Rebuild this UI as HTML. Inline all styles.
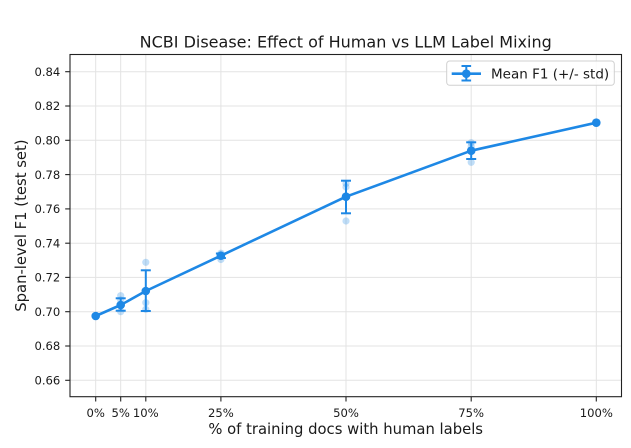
<!DOCTYPE html>
<html>
<head>
<meta charset="utf-8">
<style>
  html, body { margin: 0; padding: 0; background: #ffffff; }
  svg { display: block; }
  text { font-family: "DejaVu Sans", "Liberation Sans", sans-serif; fill: #1a1a1a; }
</style>
</head>
<body>
<svg width="631" height="448" viewBox="0 0 631 448" xmlns="http://www.w3.org/2000/svg">
  <rect x="0" y="0" width="631" height="448" fill="#ffffff"/>

  <!-- grid -->
  <g stroke="#e3e3e3" stroke-width="1">
    <!-- vertical -->
    <line x1="95.7" y1="54.5" x2="95.7" y2="396.7"/>
    <line x1="120.7" y1="54.5" x2="120.7" y2="396.7"/>
    <line x1="145.8" y1="54.5" x2="145.8" y2="396.7"/>
    <line x1="220.9" y1="54.5" x2="220.9" y2="396.7"/>
    <line x1="346" y1="54.5" x2="346" y2="396.7"/>
    <line x1="471.2" y1="54.5" x2="471.2" y2="396.7"/>
    <line x1="596.3" y1="54.5" x2="596.3" y2="396.7"/>
    <!-- horizontal -->
    <line x1="70" y1="71.7" x2="621.5" y2="71.7"/>
    <line x1="70" y1="106" x2="621.5" y2="106"/>
    <line x1="70" y1="140.3" x2="621.5" y2="140.3"/>
    <line x1="70" y1="174.6" x2="621.5" y2="174.6"/>
    <line x1="70" y1="208.9" x2="621.5" y2="208.9"/>
    <line x1="70" y1="243.2" x2="621.5" y2="243.2"/>
    <line x1="70" y1="277.4" x2="621.5" y2="277.4"/>
    <line x1="70" y1="311.7" x2="621.5" y2="311.7"/>
    <line x1="70" y1="346" x2="621.5" y2="346"/>
    <line x1="70" y1="380.3" x2="621.5" y2="380.3"/>
  </g>

  <!-- individual runs (light scatter) -->
  <g fill="#1e88e5" fill-opacity="0.28">
    <circle cx="95.7" cy="316" r="3.6"/>
    <circle cx="120.7" cy="295.7" r="3.6"/>
    <circle cx="120.7" cy="300" r="3.6"/>
    <circle cx="120.7" cy="311.7" r="3.6"/>
    <circle cx="145.8" cy="262.3" r="3.6"/>
    <circle cx="145.8" cy="302.7" r="3.6"/>
    <circle cx="145.8" cy="309.3" r="3.6"/>
    <circle cx="220.9" cy="253.2" r="3.6"/>
    <circle cx="220.9" cy="259.5" r="3.6"/>
    <circle cx="346" cy="183.5" r="3.6"/>
    <circle cx="346" cy="187" r="3.6"/>
    <circle cx="346" cy="221" r="3.6"/>
    <circle cx="471.2" cy="142.7" r="3.6"/>
    <circle cx="471.2" cy="146" r="3.6"/>
    <circle cx="471.2" cy="162.3" r="3.6"/>
    <circle cx="596.3" cy="122.7" r="3.6"/>
  </g>

  <!-- mean line -->
  <polyline fill="none" stroke="#1e88e5" stroke-width="2.6" stroke-linejoin="round"
    points="95.7,316 120.7,305 145.8,291 220.9,255.7 346,196.7 471.2,150.7 596.3,122.7"/>

  <!-- error bars -->
  <g stroke="#1e88e5" stroke-width="2">
    <line x1="120.7" y1="298.3" x2="120.7" y2="310.7"/>
    <line x1="115.7" y1="298.3" x2="125.7" y2="298.3"/>
    <line x1="115.7" y1="310.7" x2="125.7" y2="310.7"/>

    <line x1="145.8" y1="270.3" x2="145.8" y2="311"/>
    <line x1="140.8" y1="270.3" x2="150.8" y2="270.3"/>
    <line x1="140.8" y1="311" x2="150.8" y2="311"/>

    <line x1="220.9" y1="253.5" x2="220.9" y2="258"/>
    <line x1="215.9" y1="253.5" x2="225.9" y2="253.5"/>
    <line x1="215.9" y1="258" x2="225.9" y2="258"/>

    <line x1="346" y1="180.7" x2="346" y2="213.3"/>
    <line x1="341" y1="180.7" x2="351" y2="180.7"/>
    <line x1="341" y1="213.3" x2="351" y2="213.3"/>

    <line x1="471.2" y1="142.3" x2="471.2" y2="159"/>
    <line x1="466.2" y1="142.3" x2="476.2" y2="142.3"/>
    <line x1="466.2" y1="159" x2="476.2" y2="159"/>
  </g>

  <!-- mean markers -->
  <g fill="#1e88e5">
    <circle cx="95.7" cy="316" r="4.3"/>
    <circle cx="120.7" cy="305" r="4.3"/>
    <circle cx="145.8" cy="291" r="4.3"/>
    <circle cx="220.9" cy="255.7" r="4.3"/>
    <circle cx="346" cy="196.7" r="4.3"/>
    <circle cx="471.2" cy="150.7" r="4.3"/>
    <circle cx="596.3" cy="122.7" r="4.3"/>
  </g>

  <!-- spines -->
  <rect x="70" y="54.5" width="551.5" height="342.2" fill="none" stroke="#222" stroke-width="1.1"/>

  <!-- y ticks -->
  <g stroke="#222" stroke-width="1.1">
    <line x1="65.2" y1="71.7" x2="70" y2="71.7"/>
    <line x1="65.2" y1="106" x2="70" y2="106"/>
    <line x1="65.2" y1="140.3" x2="70" y2="140.3"/>
    <line x1="65.2" y1="174.6" x2="70" y2="174.6"/>
    <line x1="65.2" y1="208.9" x2="70" y2="208.9"/>
    <line x1="65.2" y1="243.2" x2="70" y2="243.2"/>
    <line x1="65.2" y1="277.4" x2="70" y2="277.4"/>
    <line x1="65.2" y1="311.7" x2="70" y2="311.7"/>
    <line x1="65.2" y1="346" x2="70" y2="346"/>
    <line x1="65.2" y1="380.3" x2="70" y2="380.3"/>
  </g>
  <g font-size="11.6" text-anchor="end">
    <text x="60.3" y="75.9">0.84</text>
    <text x="60.3" y="110.2">0.82</text>
    <text x="60.3" y="144.5">0.80</text>
    <text x="60.3" y="178.8">0.78</text>
    <text x="60.3" y="213.1">0.76</text>
    <text x="60.3" y="247.4">0.74</text>
    <text x="60.3" y="281.6">0.72</text>
    <text x="60.3" y="315.9">0.70</text>
    <text x="60.3" y="350.2">0.68</text>
    <text x="60.3" y="384.5">0.66</text>
  </g>

  <!-- x ticks -->
  <g stroke="#222" stroke-width="1.1">
    <line x1="95.7" y1="396.7" x2="95.7" y2="401.5"/>
    <line x1="120.7" y1="396.7" x2="120.7" y2="401.5"/>
    <line x1="145.8" y1="396.7" x2="145.8" y2="401.5"/>
    <line x1="220.9" y1="396.7" x2="220.9" y2="401.5"/>
    <line x1="346" y1="396.7" x2="346" y2="401.5"/>
    <line x1="471.2" y1="396.7" x2="471.2" y2="401.5"/>
    <line x1="596.3" y1="396.7" x2="596.3" y2="401.5"/>
  </g>
  <g font-size="11.6" text-anchor="middle">
    <text x="95.7" y="417">0%</text>
    <text x="120.7" y="417">5%</text>
    <text x="145.8" y="417">10%</text>
    <text x="220.9" y="417">25%</text>
    <text x="346" y="417">50%</text>
    <text x="471.2" y="417">75%</text>
    <text x="596.3" y="417">100%</text>
  </g>

  <!-- axis labels -->
  <text x="345.7" y="434" font-size="14.8" text-anchor="middle">% of training docs with human labels</text>
  <text transform="translate(26,225.6) rotate(-90)" font-size="14.8" text-anchor="middle">Span-level F1 (test set)</text>

  <!-- title -->
  <text x="345.7" y="47.5" font-size="16" text-anchor="middle">NCBI Disease: Effect of Human vs LLM Label Mixing</text>

  <!-- legend -->
  <rect x="446.7" y="61" width="167.6" height="24.3" rx="3" ry="3" fill="#ffffff" fill-opacity="0.85" stroke="#d0d0d0" stroke-width="1"/>
  <line x1="451.7" y1="73.7" x2="481" y2="73.7" stroke="#1e88e5" stroke-width="2.6"/>
  <g stroke="#1e88e5" stroke-width="2">
    <line x1="466.3" y1="66" x2="466.3" y2="80.5"/>
    <line x1="461.5" y1="66" x2="471.1" y2="66"/>
    <line x1="461.5" y1="80.5" x2="471.1" y2="80.5"/>
  </g>
  <circle cx="466.3" cy="73.7" r="4.3" fill="#1e88e5"/>
  <text x="491" y="78.5" font-size="13.5">Mean F1 (+/- std)</text>
</svg>
</body>
</html>
